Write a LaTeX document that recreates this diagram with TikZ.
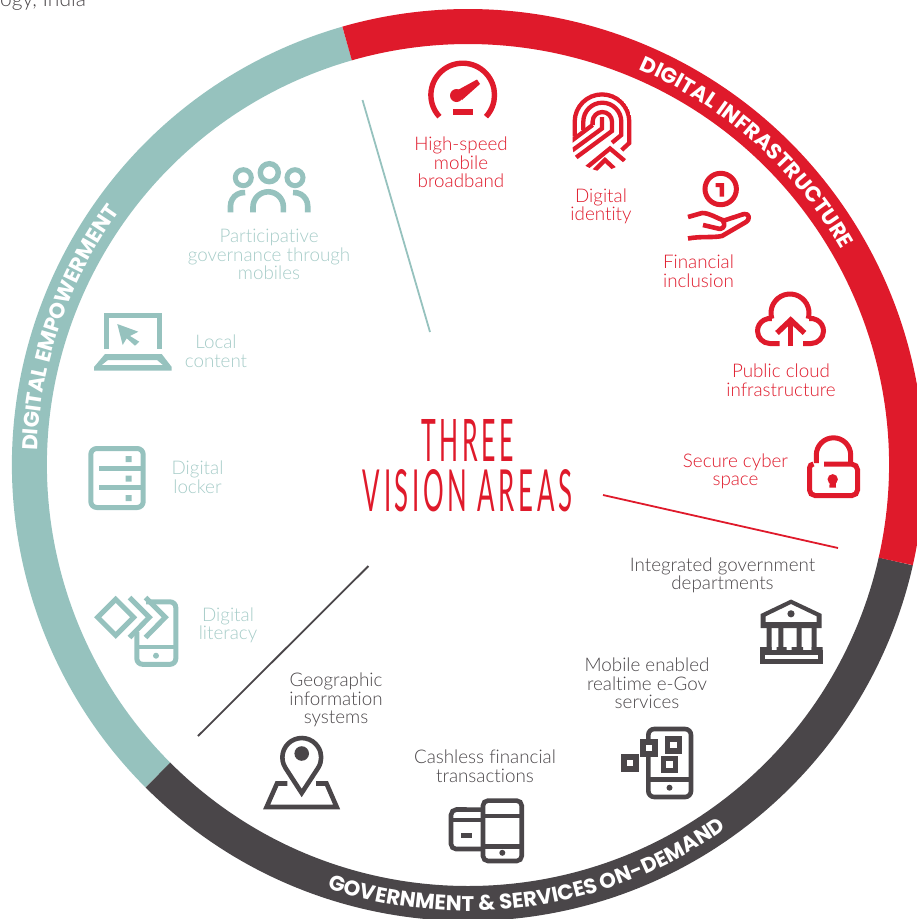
\documentclass[tikz,border=0pt]{standalone}
\usepackage{fontspec}
\usetikzlibrary{decorations.text}
\newfontfamily\lightfont{Lato Light}[Ligatures=NoCommon]
\newfontfamily\titlefont{Lato}[LetterSpace=14,Ligatures=NoCommon]
\newfontfamily\rimfont{Poppins}
\definecolor{cred}{HTML}{DF1A2B}
\definecolor{cteal}{HTML}{96C2BE}
\definecolor{cdark}{HTML}{4A4649}
\definecolor{lteal}{HTML}{A6CCC8}
\tikzset{
 lab/.style={align=center,inner sep=0pt,font=\lightfont\fontsize{18.8}{18.6}\selectfont},
 rim/.style={line width=35pt},
 ico/.style={line width=#1,line join=miter,fill=none},
 ico/.default=4.6pt,
 sep/.style={line width=1.8pt},
 rimtext/.style={decorate,decoration={text along path,text align=center,text={#1}}}
}
\begin{document}
\begin{tikzpicture}[x=1pt,y=1pt]
\useasboundingbox (0,0) rectangle (917,-919);
\clip (0,0) rectangle (917,-919);
\coordinate (c) at (468,-465);
% ring
\draw[rim,cteal] (c) ++(106:438.5) arc (106:225:438.5);
\draw[rim,cdark] (c) ++(225:438.5) arc (225:347.3:438.5);
\draw[rim,cred] (c) ++(-12.7:438.5) arc (-12.7:106:438.5);
% ring titles
\path[rimtext={|\rimfont\bfseries\fontsize{21.4}{21}\selectfont\color{white}|DIGITAL INFRASTRUCTURE}] (c) ++(88:431) arc (88:8.6:431);
\path[rimtext={|\rimfont\bfseries\fontsize{21.4}{21}\selectfont\color{white}|DIGITAL EMPOWERMENT}] (c) ++(201:431) arc (201:121:431);
\path[rimtext={|\rimfont\bfseries\fontsize{21.2}{21}\selectfont\color{white}|GOVERNMENT {\&} SERVICES ON-DEMAND}] (c) ++(228:446) arc (228:329:446);
\begin{scope}[yscale=-1]
% cut line of text at top
\node[inner sep=0pt,text=cdark,anchor=base west,font=\lightfont\fontsize{21}{21}\selectfont] (src) at (0,6.8) {ogy, India};
% centre title
\node[inner sep=0pt,text=cred] (t1) at (467.5,440) {\resizebox{92pt}{42pt}{\titlefont THREE}};
\node[inner sep=0pt,text=cred] (t2) at (467.5,491) {\resizebox{209pt}{42pt}{\titlefont VISION AREAS}};
% dividers
\coordinate (a1) at (362.5,100); \coordinate (a2) at (430,332);
\coordinate (b1) at (603,495); \coordinate (b2) at (838,548);
\coordinate (d1) at (368.5,566); \coordinate (d2) at (198,736);
\draw[sep,cteal] (a1)--(a2);
\draw[sep,cred] (b1)--(b2);
\draw[sep,cdark] (d1)--(d2);
% labels
\node[lab,text=cred] (l1) at (461,162.5) {High-speed\\mobile\\broadband};
\node[lab,text=cred] (l2) at (601,206.5) {Digital\\identity};
\node[lab,text=cred] (l3) at (698.5,271) {Financial\\inclusion};
\node[lab,text=cred] (l4) at (781,380.5) {Public cloud\\infrastructure};
\node[lab,text=cred] (l5) at (735.5,471.5) {Secure cyber\\space};
\node[lab,text=cdark] (l6) at (722.5,575.5) {Integrated government\\departments};
\node[lab,text=cdark] (l7) at (647,683.5) {Mobile enabled\\realtime e-Gov\\services};
\node[lab,text=cdark] (l8) at (485,766.5) {Cashless financial\\transactions};
\node[lab,text=cdark] (l9) at (336,700) {Geographic\\information\\systems};
\node[lab,text=lteal] (l10) at (228,625.5) {Digital\\literacy};
\node[lab,text=lteal] (l11) at (197.5,477.5) {Digital\\locker};
\node[lab,text=lteal] (l12) at (216,351) {Local\\content};
\node[lab,text=lteal] (l13) at (269,254.5) {Participative\\governance through\\mobiles};
% speedometer
\begin{scope}[cred]
\draw[ico=5.4pt] (462.7,95) ++(137:31.8) arc (137:403:31.8);
\fill (453,108.5) rectangle (473,115);
\fill (456.5,95.5) circle (6.5);
\fill (456,91)--(477,79.5)--(480,84)--(462,100)--cycle;
\end{scope}
% fingerprint
\begin{scope}
\clip (572.5,121.7) arc (180:360:29.5) -- (631.5,147) .. controls (631,161) and (612,171) .. (602,171.3) .. controls (591,171) and (572.5,161) .. (572.5,147) -- cycle;
\begin{scope}[cred,line width=4.3pt]
\draw (574.7,136.5) -- (574.7,121.7) arc (180:360:27.3) -- (629.3,143) -- (621.7,150);
\draw (583.3,130) -- (583.3,121.7) arc (180:360:19) -- (621.3,135) -- (612,142.7);
\draw (592.6,125) -- (592.6,121.7) arc (180:360:9.7) -- (612,131) -- (570,162);
\draw (592.6,125) -- (568,143.5);
\draw (602,117) -- (602,128.5) -- (568,153.5);
\draw (583,170.5) -- (610,148.5) -- (632,167);
\draw (591,174) -- (605,160) -- (620,174);
\end{scope}
\end{scope}
% hand and coin
\begin{scope}[cred]
\draw[ico=5pt] (720.7,189) circle (15.7);
\fill (715.5,183) -- (724,183) -- (724,196.5) -- (719.5,196.5) -- (719.5,187) -- (715.5,187) -- cycle;
\draw[ico=4.6pt,line join=round] (688,217) -- (702,213) .. controls (710,213) and (716,218) .. (724,220.5) -- (744,214) .. controls (750,213) and (750,220) .. (746,222) -- (722,236) .. controls (712,238) and (702,236) .. (688,238.5);
\draw[ico=4.6pt,line join=round] (703,225) -- (720,229) .. controls (725,228) and (725,224) .. (723,221);
\end{scope}
% cloud
\begin{scope}[cred]
\draw[ico=5pt] (779.5,343.5) -- (770,343.5) arc (90:278.5:12.5);
\draw[ico=5pt] (790,313) ++(162.6:19) arc (162.6:377.4:19);
\draw[ico=5pt] (803,343.5) -- (811,343.5) arc (90:-98.5:12.5);
\draw[ico=5.4pt] (790.7,346) -- (790.7,320);
\draw[ico=5.4pt] (777,333) -- (790.7,320) -- (804.5,333);
\end{scope}
% padlock
\begin{scope}[cred]
\draw[ico=5pt] (824,464.2) -- (852,464.2) arc (-90:0:5.5) -- (857.5,490) arc (0:90:5.5) -- (815,495.5) arc (90:180:5.5) -- (809.5,468) arc (180:270:4);
\draw[ico=5pt] (816.3,463) -- (816.3,455) arc (180:360:17.2) -- (850.7,463);
\fill (832.7,479.3) circle (5.2);
\fill (829.7,480) -- (835.7,480) -- (836,487.5) -- (829.4,487.5) -- cycle;
\end{scope}
% bank
\begin{scope}[cdark]
\fill[even odd rule] (760.7,614) -- (791,599.5) -- (821.7,614) -- (821.7,628) -- (760.7,628) -- cycle (765.7,616.3) -- (791,604) -- (816.7,616.3) -- (816.7,622) -- (765.7,622) -- cycle;
\fill (791,613.8) circle (3.6);
\fill (766.7,625) rectangle (771.7,650) (778.3,625) rectangle (783.3,650) (796.7,625) rectangle (801.7,650) (811.7,625) rectangle (816.7,650);
\fill (760,647) rectangle (771.7,653) (776.7,647) rectangle (786.7,653) (791.7,647) rectangle (803,653) (811.7,647) rectangle (822.7,653);
\draw[ico=4.6pt] (762.3,652.3) rectangle (820.4,661.7);
\end{scope}
% phone with squares
\begin{scope}[cdark]
\draw[ico=4.6pt,rounded corners=6pt] (648.3,729) rectangle (691,797);
\draw[ico=4.6pt] (648.3,779.5) -- (691,779.5);
\fill (669.5,787.7) circle (3);
\foreach \n/\x/\y in {A/630/763, B/648.7/747.8, C/673.6/744.7, D/669.3/764.3}{
 \fill[cdark] (\x-8.8,\y-8.8) rectangle (\x+8.8,\y+8.8);
 \fill[white] (\x-3.2,\y-3.2) rectangle (\x+3.2,\y+3.2);
}
\end{scope}
% phone and card
\begin{scope}[cdark]
\draw[ico=4.6pt] (482,849) -- (456,849) arc (90:180:5) -- (451,815) arc (180:270:5.5) -- (482,809.6);
\draw[ico=4.6pt,rounded corners=5pt] (483,800.6) rectangle (521.7,861);
\draw[ico=4.6pt] (483,816) -- (521.7,816) (483,846.7) -- (521.7,846.7);
\draw[ico=4.8pt] (451,820) -- (482,820);
\fill (461,832.7) rectangle (471.7,838.3);
\fill (502.3,852.8) circle (3);
\end{scope}
% map pin
\begin{scope}[cdark]
\draw[ico=4.6pt] (301.7,793) -- (285.5,768) arc (147:393:19.4) -- cycle;
\fill (301.7,753.5) circle (7.3);
\draw[ico=4.6pt] (287.3,783.5) -- (277,783.5) -- (266.6,807) -- (336.7,807) -- (326.5,783.5) -- (316,783.5);
\end{scope}
% people
\begin{scope}[cteal]
\draw[ico=5.4pt] (269.3,172.7) circle (9);
\draw[ico=5pt] (243.3,177.7) circle (8);
\draw[ico=5pt] (295,177.7) circle (8);
\draw[ico=5.6pt] (253,212.3) -- (253,207) arc (180:360:15.2) -- (283.4,212.3);
\draw[ico=5.6pt] (230.5,212.3) -- (230.5,206) arc (180:275:13.5);
\draw[ico=5.6pt] (307.7,212.3) -- (307.7,206) arc (360:265:13.5);
\end{scope}
% laptop
\begin{scope}[cteal]
\draw[ico=5pt] (106.5,349) -- (106.5,315.8) -- (159.2,315.8) -- (159.2,349);
\fill[even odd rule] (105,354) -- (161.7,354) -- (171.7,367) -- (171.7,370.7) -- (94,370.7) -- (94,367) -- cycle (108,360) -- (157,360) -- (163,365) -- (101.7,365) -- cycle;
\fill (117.3,324) -- (138.3,331.7) -- (130,336) -- (139.3,341.7) -- (135,345.7) -- (126.7,338.3) -- (122.7,345) -- cycle;
\end{scope}
% locker
\begin{scope}[cteal]
\draw[ico=5pt,rounded corners=6pt] (90.8,448.5) rectangle (143.2,507.5);
\draw[ico=5.4pt] (99.3,468.5) -- (143,468.5) (99.3,487.7) -- (143,487.7);
\fill (125.7,456) rectangle (131.7,462) (125.7,475.7) rectangle (131.7,481.7) (125.7,495) rectangle (131.7,501);
\end{scope}
% literacy
\begin{scope}[cteal]
\draw[ico=5pt] (146,601.8) -- (170,601.8) arc (-90:0:5.8) -- (175.8,658.5) arc (0:90:5.8) -- (142.6,664.3) arc (90:180:5.8) -- (136.8,632);
\draw[ico=4.6pt] (136.8,646.8) -- (175.8,646.8);
\fill (156,655.7) circle (3);
\draw[ico=5pt] (115.7,599.3) -- (133.7,617.3) -- (115.7,635.3) -- (97.7,617.3) -- cycle;
\draw[ico=5pt] (129.5,597.5) -- (149.3,617.3) -- (129.5,637.5);
\draw[ico=5pt] (145.5,597.5) -- (165.3,617.3) -- (145.5,637.5);
\end{scope}
\end{scope}
\end{tikzpicture}
\end{document}
